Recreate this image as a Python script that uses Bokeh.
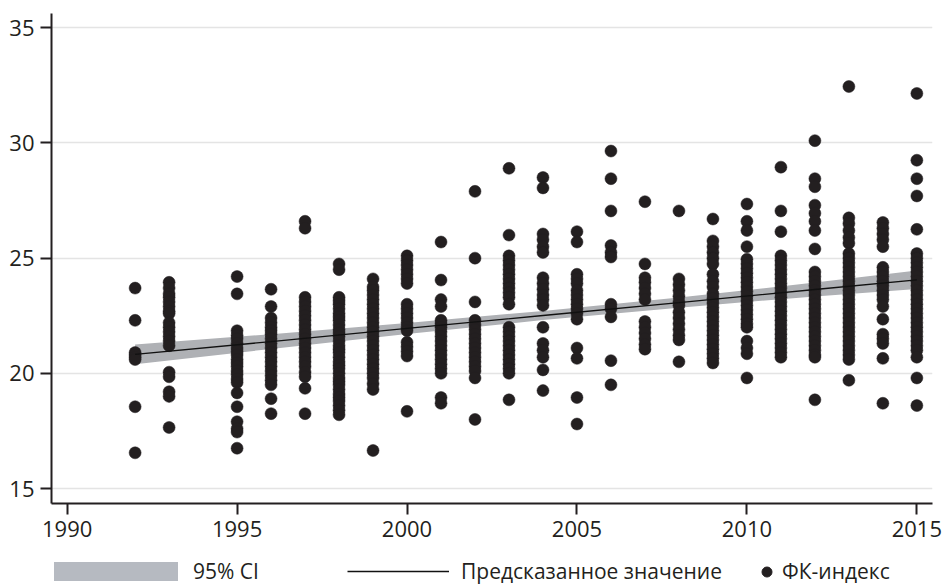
from bokeh.plotting import figure
from bokeh.models import Range1d, FixedTicker, Legend, LegendItem
from bokeh.layouts import column
from bokeh.embed import file_html
from bokeh.resources import INLINE

# ---- data ----
years = [1992, 1993, 1995, 1996, 1997, 1998, 1999, 2000, 2001, 2002, 2003, 2004,
         2005, 2006, 2007, 2008, 2009, 2010, 2011, 2012, 2013, 2014, 2015]

y1992 = [23.7, 22.3, 20.9, 20.8, 20.7, 20.6, 18.55, 16.55]
y1993 = [23.95, 23.7, 23.45, 23.3, 23.1, 22.9, 22.7, 22.6, 22.2, 22.0, 21.8, 21.6, 21.4, 21.2,
         20.05, 19.85, 19.2, 19.0, 17.65]
y1995 = [24.2, 23.45, 21.85, 21.65, 21.5, 21.3, 21.1, 20.95, 20.8, 20.6, 20.45, 20.3, 20.1, 19.95,
         19.75, 19.6, 19.15, 18.55, 17.9, 17.6, 17.45, 16.75]
y1996 = [23.65, 22.9, 22.4, 22.2, 22.0, 21.85, 21.7, 21.5, 21.3, 21.1, 20.9, 20.7, 20.5, 20.3,
         20.1, 19.9, 19.7, 19.5, 18.9, 18.25]
y1997 = [26.6, 26.3, 23.3, 23.1, 22.9, 22.7, 22.5, 22.3, 22.1, 21.9, 21.7, 21.5, 21.3, 21.1,
         20.9, 20.7, 20.5, 20.3, 20.05, 19.85, 19.35, 18.25]
y1998 = [24.75, 24.5, 23.3, 23.15, 23.0, 22.8, 22.6, 22.45, 22.3, 22.1, 21.9, 21.75, 21.6, 21.4,
         21.2, 21.05, 20.9, 20.7, 20.5, 20.35, 20.2, 20.0, 19.8, 19.65, 19.5, 19.3, 19.1, 18.95,
         18.8, 18.6, 18.4, 18.2]
y1999 = [24.1, 23.75, 23.6, 23.4, 23.2, 23.0, 22.8, 22.6, 22.4, 22.2, 22.0, 21.8, 21.6, 21.4,
         21.2, 21.0, 20.8, 20.6, 20.4, 20.2, 20.0, 19.8, 19.55, 19.3, 16.65]
y2000 = [25.1, 24.9, 24.7, 24.5, 24.3, 24.1, 23.9, 23.0, 22.8, 22.6, 22.4, 22.2, 22.0, 21.85,
         21.35, 21.15, 20.95, 20.75, 18.35]
y2001 = [25.7, 24.05, 23.2, 22.9, 22.3, 22.15, 22.0, 21.8, 21.6, 21.4, 21.2, 21.0, 20.8, 20.6,
         20.4, 20.2, 20.0, 18.95, 18.7]
y2002 = [27.9, 25.0, 23.1, 22.3, 22.1, 21.9, 21.7, 21.5, 21.3, 21.1, 20.9, 20.7, 20.5, 20.3,
         20.1, 19.8, 18.0]
y2003 = [28.9, 26.0, 25.1, 24.9, 24.7, 24.5, 24.3, 24.1, 23.9, 23.7, 23.5, 23.3, 23.0, 22.0,
         21.8, 21.6, 21.4, 21.2, 21.0, 20.8, 20.6, 20.4, 20.2, 20.0, 18.85]
y2004 = [28.5, 28.05, 26.05, 25.8, 25.5, 25.25, 24.15, 23.9, 23.65, 23.4, 23.2, 22.95, 22.0,
         21.3, 21.0, 20.7, 20.15, 19.25]
y2005 = [26.15, 25.7, 24.3, 24.1, 23.9, 23.6, 23.4, 23.2, 23.0, 22.8, 22.6, 22.35, 21.1, 20.65,
         18.95, 17.8]
y2006 = [29.65, 28.45, 27.05, 25.55, 25.25, 25.05, 23.0, 22.8, 22.45, 20.55, 19.5]
y2007 = [27.45, 24.75, 24.15, 23.95, 23.7, 23.45, 23.2, 22.25, 22.0, 21.75, 21.5, 21.25, 21.05]
y2008 = [27.05, 24.1, 23.85, 23.6, 23.35, 23.1, 22.95, 22.65, 22.4, 22.15, 21.9, 21.65, 21.45,
         20.5]
y2009 = [26.7, 25.75, 25.5, 25.25, 25.0, 24.75, 24.3, 24.0, 23.75, 23.45, 23.25, 23.05, 22.85,
         22.65, 22.45, 22.25, 22.05, 21.85, 21.65, 21.45, 21.25, 21.05, 20.85, 20.65, 20.45]
y2010 = [27.35, 26.6, 26.2, 25.5, 24.95, 24.75, 24.55, 24.35, 24.15, 23.95, 23.75, 23.55, 23.35,
         23.15, 22.95, 22.75, 22.55, 22.35, 22.15, 22.0, 21.4, 21.1, 20.85, 19.8]
y2011 = [28.95, 27.05, 26.15, 25.1, 24.9, 24.7, 24.5, 24.3, 24.1, 23.9, 23.7, 23.5, 23.3, 23.1,
         22.9, 22.7, 22.5, 22.3, 22.1, 21.9, 21.7, 21.5, 21.3, 21.1, 20.9, 20.7]
y2012 = [30.1, 28.45, 28.1, 27.3, 26.95, 26.6, 26.2, 25.4, 24.4, 24.2, 24.0, 23.8, 23.6, 23.4,
         23.2, 23.0, 22.8, 22.6, 22.4, 22.2, 22.0, 21.8, 21.6, 21.4, 21.2, 21.0, 20.8, 20.7, 18.85]
y2013 = [32.45, 26.75, 26.5, 26.2, 25.9, 25.65, 25.2, 25.0, 24.8, 24.6, 24.4, 24.2, 24.0, 23.8,
         23.6, 23.4, 23.2, 23.0, 22.8, 22.6, 22.4, 22.2, 22.0, 21.8, 21.6, 21.4, 21.2, 21.0, 20.8,
         20.6, 19.7]
y2014 = [26.55, 26.3, 26.05, 25.8, 25.5, 24.6, 24.4, 24.2, 24.0, 23.8, 23.6, 23.4, 23.2, 22.9,
         22.35, 21.7, 21.5, 21.3, 20.65, 18.7]
y2015 = [32.15, 29.25, 28.45, 27.7, 26.25, 25.2, 25.0, 24.8, 24.6, 24.4, 24.2, 24.0, 23.8, 23.6,
         23.4, 23.2, 23.0, 22.8, 22.6, 22.4, 22.2, 22.0, 21.8, 21.6, 21.4, 21.2, 21.0, 20.7, 19.8,
         18.6]

values_by_year = [y1992, y1993, y1995, y1996, y1997, y1998, y1999, y2000, y2001, y2002, y2003,
                  y2004, y2005, y2006, y2007, y2008, y2009, y2010, y2011, y2012, y2013, y2014,
                  y2015]

fit_years = [1992, 1996, 2000, 2004, 2008, 2012, 2015]
fit_pred = [20.82, 21.38, 21.95, 22.51, 23.07, 23.64, 24.06]
ci_lower = [20.39, 21.06, 21.71, 22.31, 22.85, 23.34, 23.66]
ci_upper = [21.25, 21.70, 22.19, 22.71, 23.29, 23.94, 24.46]

x_ticks = [1990, 1995, 2000, 2005, 2010, 2015]
y_ticks = [15, 20, 25, 30, 35]

label_ci = "95% CI"
label_fit = "Предсказанное значение"
label_pts = "ФК-индекс"

# ---- build ----
pts_x, pts_y = [], []
for yr, vals in zip(years, values_by_year):
    for v in vals:
        pts_x.append(yr)
        pts_y.append(v)

INK = "#231f20"
FONT = "Open Sans"
BAND = "#afb1b5"
LEGEND_BOX = "#b6bac1"
NAN = float("nan")

p = figure(width=942, height=552, output_backend="svg", toolbar_location=None,
           x_range=Range1d(1989.54, 2015.46), y_range=Range1d(14.35, 35.62),
           min_border_left=51, min_border_right=10, min_border_top=13, min_border_bottom=49)
p.outline_line_color = None

band = p.varea(x=fit_years, y1=ci_lower, y2=ci_upper, fill_color=BAND, fill_alpha=1.0)
pts = p.scatter(x=pts_x, y=pts_y, size=12, fill_color=INK, line_color=INK, line_width=0.5)
fit = p.line(x=fit_years, y=fit_pred, line_color="#111111", line_width=1.3)

p.xgrid.grid_line_color = None
p.ygrid.grid_line_color = "#e4e4e4"
p.ygrid.grid_line_width = 1.5
p.ygrid.ticker = FixedTicker(ticks=y_ticks)

for ax in (p.xaxis[0], p.yaxis[0]):
    ax.axis_line_color = INK
    ax.axis_line_width = 2
    ax.major_tick_line_color = INK
    ax.major_tick_line_width = 2
    ax.major_tick_in = 0
    ax.major_tick_out = 11
    ax.minor_tick_line_color = None
    ax.major_label_text_font = FONT
    ax.major_label_text_font_size = "22px"
    ax.major_label_text_color = INK

p.xaxis[0].ticker = FixedTicker(ticks=x_ticks)
p.yaxis[0].ticker = FixedTicker(ticks=y_ticks)
p.xaxis[0].major_label_standoff = 6
p.yaxis[0].major_label_standoff = 6

# ---- legend strip under the chart (its frame is aligned with the chart frame) ----
lg_fig = figure(width=942, height=33, output_backend="svg", toolbar_location=None,
                x_range=Range1d(0, 1), y_range=Range1d(0, 1),
                x_axis_type=None, y_axis_type=None,
                min_border_left=0, min_border_right=0, min_border_top=0, min_border_bottom=0)
lg_fig.outline_line_color = None
lg_fig.xgrid.visible = False
lg_fig.ygrid.visible = False

# key glyphs only (NaN data: nothing is drawn in the strip itself)
k_band = lg_fig.varea(x=[NAN], y1=[NAN], y2=[NAN], fill_color=LEGEND_BOX)
k_fit = lg_fig.line(x=[NAN], y=[NAN], line_color="#111111", line_width=1.6)
k_pts = lg_fig.scatter(x=[NAN], y=[NAN], size=10, fill_color=INK, line_color=INK)


def make_legend(item, x, y, gw, gh, standoff):
    lg = Legend(items=[item], location=(x, y), orientation="horizontal",
                glyph_width=gw, glyph_height=gh, label_standoff=standoff,
                padding=0, margin=0, spacing=0,
                border_line_color=None, background_fill_alpha=0.0,
                label_text_font=FONT, label_text_font_size="21px",
                label_text_color=INK)
    lg_fig.add_layout(lg, "center")
    return lg


# area keys are drawn inset by 10% on each side, hence the larger glyph box
make_legend(LegendItem(label=label_ci, renderers=[k_band]), -13, 0, 155, 24, -3)
make_legend(LegendItem(label=label_fit, renderers=[k_fit]), 296, 0, 102, 18, 12)
make_legend(LegendItem(label=label_pts, renderers=[k_pts]), 703, 0, 25, 25, 3)

layout = column(p, lg_fig, spacing=0)
open("out.html", "w").write(file_html(layout, INLINE))
